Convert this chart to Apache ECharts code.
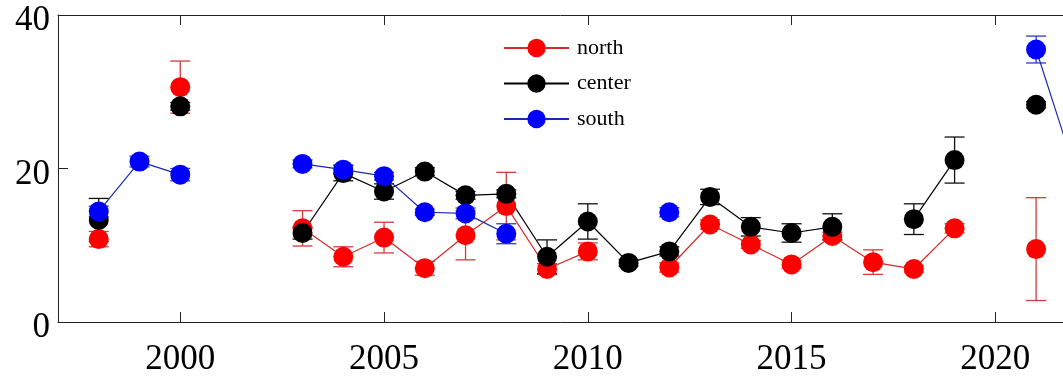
<!DOCTYPE html>
<html>
<head>
<meta charset="utf-8">
<script src="https://cdn.jsdelivr.net/npm/echarts@6/dist/echarts.min.js"></script>
<style>html,body{margin:0;padding:0;background:#fff;}#c{width:1063px;height:377px;}</style>
</head>
<body>
<div id="c"></div>
<script>
const years = [1998,1999,2000,2001,2002,2003,2004,2005,2006,2007,2008,2009,2010,2011,2012,2013,2014,2015,2016,2017,2018,2019,2020,2021,2022];
const north     = [10.8,null,30.6,null,null,12.2,8.5,11.0,7.0,11.3,15.1,6.9,9.2,null,7.1,12.7,10.1,7.5,11.2,7.8,6.9,12.2,null,9.5,null];
const northErr  = [1.0,null,3.4,null,null,2.3,1.3,2.0,0.9,3.2,4.4,0.7,1.1,null,0.6,0.6,0.5,0.5,0.5,1.6,0.4,0.6,null,6.7,null];
const center    = [13.3,null,28.1,null,null,11.6,19.4,17.0,19.6,16.5,16.7,8.5,13.1,7.7,9.2,16.3,12.4,11.6,12.4,null,13.4,21.1,null,28.3,null];
const centerErr = [2.8,null,0.5,null,null,0.8,1.0,1.0,0.5,0.5,0.5,2.2,2.3,0.4,0.6,1.0,1.2,1.2,1.7,null,2.0,3.0,null,0.4,null];
const south     = [14.4,20.9,19.2,null,null,20.6,19.85,19.0,14.3,14.15,11.5,null,null,null,14.3,null,null,null,null,null,null,null,null,35.5,19.0];
const southErr  = [0.7,0.7,0.8,null,null,0.5,0.6,0.5,0.4,0.7,1.3,null,null,null,0.6,null,null,null,null,null,null,null,null,1.75,1.0];
const xTicks = [2000,2005,2010,2015,2020];

const FONT = 'Liberation Serif';
const axisColor = '#222';
const X_MIN = 1997, X_MAX = 2021.66;

function pairs(vals){ return years.map((y,i)=>[y, vals[i]]); }
function errData(vals, errs){
  const out = [];
  years.forEach((y,i)=>{ if(vals[i]!=null && errs[i]!=null) out.push([y, vals[i], errs[i]]); });
  return out;
}
function errSeries(name, vals, errs, color){
  return {
    type:'custom', name: name+'_err', z: 1, clip: true, silent: true,
    xAxisIndex:0, yAxisIndex:0,
    data: errData(vals, errs),
    encode:{x:0, y:1},
    renderItem(params, api){
      const x = api.value(0), y = api.value(1), e = api.value(2);
      const t = api.coord([x, y+e]), b = api.coord([x, y-e]);
      const hw = 10;
      const st = {stroke: color, lineWidth: 1.3};
      return {type:'group', children:[
        {type:'line', shape:{x1:t[0],y1:t[1],x2:b[0],y2:b[1]}, style:st},
        {type:'line', shape:{x1:t[0]-hw,y1:t[1],x2:t[0]+hw,y2:t[1]}, style:st},
        {type:'line', shape:{x1:b[0]-hw,y1:b[1],x2:b[0]+hw,y2:b[1]}, style:st}
      ]};
    }
  };
}
function lineSeries(name, vals, mColor, lColor){
  return {
    type:'line', name, z: 3, data: pairs(vals), connectNulls:false, clip:true,
    symbol:'circle', symbolSize:20, showAllSymbol:true,
    itemStyle:{color:mColor},
    lineStyle:{color:lColor, width:1.2},
    emphasis:{disabled:true}, animation:false
  };
}

const chart = echarts.init(document.getElementById('c'), null, {renderer:'canvas'});
chart.setOption({
  animation:false,
  backgroundColor:'#fff',
  grid:{left:58, right:0, top:15, bottom:54.3, containLabel:false},
  legend:{
    orient:'vertical', left:498, top:32, itemWidth:65, itemHeight:23, itemGap:13.5,
    data:['north','center','south'],
    textStyle:{fontFamily:FONT, fontSize:22, color:'#000', padding:[0,0,0,3]},
    selectedMode:false
  },
  xAxis:[{
    type:'value', min:X_MIN, max:X_MAX, position:'bottom',
    axisLine:{show:true, lineStyle:{color:axisColor, width:1}},
    axisTick:{show:true, inside:true, length:10, customValues:xTicks, lineStyle:{color:axisColor}},
    axisLabel:{customValues:xTicks, formatter:(v)=>String(v), fontFamily:FONT, fontSize:35, color:'#000', margin:20},
    splitLine:{show:false}
  },{
    type:'value', min:X_MIN, max:X_MAX, position:'top',
    axisLine:{show:true, lineStyle:{color:axisColor, width:1}},
    axisTick:{show:true, inside:true, length:10, customValues:xTicks, lineStyle:{color:axisColor}},
    axisLabel:{show:false},
    splitLine:{show:false}
  }],
  yAxis:[{
    type:'value', min:0, max:40, interval:20,
    axisLine:{show:true, lineStyle:{color:axisColor, width:1}},
    axisTick:{show:true, inside:true, length:10, lineStyle:{color:axisColor}},
    axisLabel:{
      formatter:(v)=>'{v|'+v+'}', margin:8,
      rich:{v:{fontFamily:FONT, fontSize:35, color:'#000', padding:[12,0,0,0]}}
    },
    splitLine:{show:false}
  }],
  series:[
    errSeries('north', north, northErr, '#d23c3c'),
    errSeries('center', center, centerErr, '#111'),
    errSeries('south', south, southErr, '#2a3ad0'),
    lineSeries('north', north, '#ff0000', '#d42a2a'),
    lineSeries('center', center, '#000000', '#000000'),
    lineSeries('south', south, '#0000ff', '#1a28b4')
  ]
});
</script>
</body>
</html>
